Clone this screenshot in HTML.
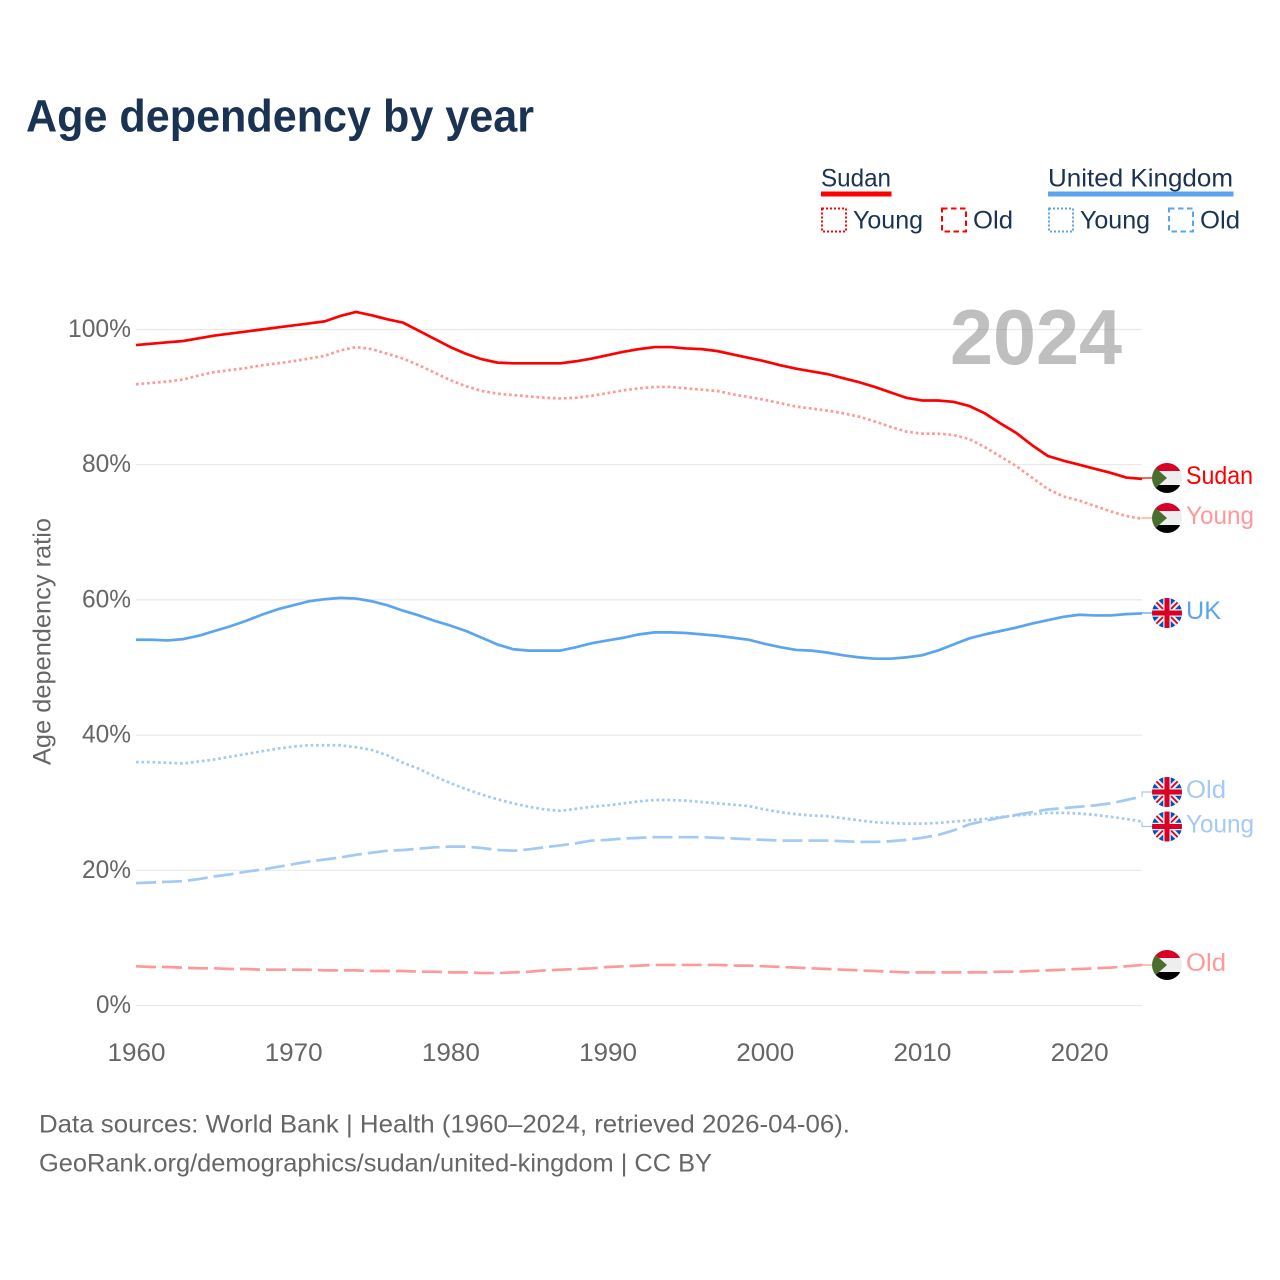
<!DOCTYPE html>
<html lang="en">
<head>
<meta charset="utf-8">
<title>Age dependency by year</title>
<style>
html,body{margin:0;padding:0;background:#fff;width:1280px;height:1280px;overflow:hidden}
svg{display:block}
text{font-family:"Liberation Sans",sans-serif}
</style>
</head>
<body>
<svg id="chart" xmlns="http://www.w3.org/2000/svg" width="1280" height="1280" viewBox="0 0 1280 1280">
  <defs>
    <clipPath id="flag-clip"><circle cx="0" cy="0" r="15"/></clipPath>
    <g id="flag-sudan" clip-path="url(#flag-clip)">
      <rect x="-15" y="-15" width="30" height="8" fill="#d80027"/>
      <rect x="-15" y="-7" width="30" height="14" fill="#eeeeee"/>
      <rect x="-15" y="7" width="30" height="8" fill="#000000"/>
      <path d="M-17,-15 L0,0 L-17,15 Z" fill="#496e2d"/>
    </g>
    <g id="flag-uk" clip-path="url(#flag-clip)">
      <rect x="-15" y="-15" width="30" height="30" fill="#0052b4"/>
      <path d="M-15,-15 L15,15 M15,-15 L-15,15" stroke="#eeeeee" stroke-width="6"/>
      <path d="M-15,-15 L15,15 M15,-15 L-15,15" stroke="#d80027" stroke-width="1.8"/>
      <path d="M0,-15 V15 M-15,0 H15" stroke="#eeeeee" stroke-width="7.5"/>
      <path d="M0,-15 V15 M-15,0 H15" stroke="#d80027" stroke-width="5"/>
    </g>
  </defs>

  <text x="26" y="131.5" font-size="45" font-weight="700" fill="#1a3353" textLength="508" lengthAdjust="spacingAndGlyphs">Age dependency by year</text>

  <g font-size="25" fill="#1a3353">
    <text x="821" y="186.5" textLength="70" lengthAdjust="spacingAndGlyphs">Sudan</text>
    <rect x="821" y="191.5" width="70.5" height="5" fill="#ff0000"/>
    <rect x="822" y="208.5" width="24" height="23" fill="none" stroke="#ff0000" stroke-width="2" stroke-dasharray="2 2"/>
    <text x="853" y="228.5" textLength="70" lengthAdjust="spacingAndGlyphs">Young</text>
    <rect x="942" y="208.5" width="24" height="23" fill="none" stroke="#ff0000" stroke-width="2" stroke-dasharray="5.5 3.5"/>
    <text x="973" y="228.5" textLength="40" lengthAdjust="spacingAndGlyphs">Old</text>
    <text x="1048" y="186.5" textLength="185" lengthAdjust="spacingAndGlyphs">United Kingdom</text>
    <rect x="1048" y="191.5" width="185.5" height="5" fill="#5ba4ee"/>
    <rect x="1049" y="208.5" width="24" height="23" fill="none" stroke="#5ba4ee" stroke-width="2" stroke-dasharray="2 2"/>
    <text x="1080" y="228.5" textLength="70" lengthAdjust="spacingAndGlyphs">Young</text>
    <rect x="1169" y="208.5" width="24" height="23" fill="none" stroke="#5ba4ee" stroke-width="2" stroke-dasharray="5.5 3.5"/>
    <text x="1200" y="228.5" textLength="40" lengthAdjust="spacingAndGlyphs">Old</text>
  </g>

  <g id="grid"></g>
  <text x="950" y="364" font-size="78" font-weight="700" fill="#808080" fill-opacity="0.5" textLength="172" lengthAdjust="spacingAndGlyphs">2024</text>
  <g id="y-ticks" font-size="25" fill="#666666" text-anchor="end"></g>
  <g id="x-ticks" font-size="25" fill="#666666" text-anchor="middle"></g>
  <text transform="translate(50.5,765) rotate(-90)" font-size="25" fill="#666666" textLength="247" lengthAdjust="spacingAndGlyphs">Age dependency ratio</text>
  <g id="series"></g>
  <g id="labels" font-size="25"></g>

  <g font-size="25" fill="#666666">
    <text x="39" y="1132.5" textLength="811" lengthAdjust="spacingAndGlyphs">Data sources: World Bank | Health (1960–2024, retrieved 2026-04-06).</text>
    <text x="39" y="1171.5" textLength="673" lengthAdjust="spacingAndGlyphs">GeoRank.org/demographics/sudan/united-kingdom | CC BY</text>
  </g>
</svg>

<script>
const firstYear = 1960;
const xTickYears = [1960, 1970, 1980, 1990, 2000, 2010, 2020];
const yTickValues = [0, 20, 40, 60, 80, 100];

const sudanTotal = [97.7,97.9,98.1,98.3,98.7,99.1,99.4,99.7,100.0,100.3,100.6,100.9,101.2,102.0,102.6,102.1,101.5,101.0,99.8,98.6,97.4,96.4,95.6,95.1,95.0,95.0,95.0,95.0,95.3,95.7,96.2,96.7,97.1,97.4,97.4,97.2,97.1,96.8,96.3,95.8,95.3,94.7,94.2,93.8,93.4,92.8,92.2,91.5,90.7,89.9,89.5,89.5,89.3,88.7,87.6,86.1,84.7,82.9,81.3,80.6,80.0,79.4,78.8,78.1,77.9];
const sudanYoung = [91.9,92.1,92.3,92.6,93.2,93.7,94.0,94.3,94.7,95.0,95.3,95.7,96.1,96.9,97.4,97.1,96.4,95.7,94.7,93.6,92.5,91.6,90.9,90.5,90.3,90.1,89.9,89.8,89.9,90.2,90.6,91.0,91.3,91.5,91.5,91.3,91.1,90.9,90.4,90.0,89.6,89.1,88.6,88.3,88.0,87.6,87.1,86.4,85.6,84.9,84.6,84.6,84.4,83.8,82.6,81.2,79.8,78.1,76.4,75.3,74.7,73.9,73.1,72.4,72.0];
const sudanOld = [5.8,5.7,5.7,5.6,5.5,5.5,5.4,5.4,5.3,5.3,5.3,5.3,5.2,5.2,5.2,5.1,5.1,5.1,5.0,5.0,4.9,4.9,4.8,4.8,4.9,5.0,5.2,5.3,5.4,5.5,5.7,5.8,5.9,6.0,6.0,6.0,6.0,6.0,5.9,5.9,5.8,5.7,5.6,5.5,5.4,5.3,5.2,5.1,5.0,4.9,4.9,4.9,4.9,4.9,4.9,5.0,5.0,5.1,5.2,5.3,5.4,5.5,5.6,5.8,6.0];
const ukTotal = [54.1,54.1,54.0,54.2,54.7,55.4,56.1,56.9,57.8,58.6,59.2,59.8,60.1,60.3,60.2,59.8,59.2,58.4,57.7,56.9,56.2,55.4,54.4,53.4,52.7,52.5,52.5,52.5,53.0,53.6,54.0,54.4,54.9,55.2,55.2,55.1,54.9,54.7,54.4,54.1,53.5,53.0,52.6,52.5,52.2,51.8,51.5,51.3,51.3,51.5,51.8,52.5,53.4,54.3,54.9,55.4,55.9,56.5,57.0,57.5,57.8,57.7,57.7,57.9,58.0];
const ukYoung = [36.0,36.0,35.9,35.8,36.1,36.4,36.8,37.2,37.6,38.0,38.3,38.5,38.5,38.5,38.2,37.8,37.0,35.9,35.0,33.9,32.9,32.0,31.2,30.5,29.9,29.4,29.0,28.8,29.1,29.4,29.6,29.9,30.2,30.4,30.4,30.3,30.1,29.9,29.7,29.5,29.0,28.6,28.3,28.1,28.0,27.7,27.4,27.1,27.0,26.9,26.9,27.0,27.2,27.4,27.6,27.9,28.1,28.3,28.5,28.5,28.4,28.2,27.9,27.6,27.2];
const ukOld = [18.1,18.2,18.3,18.4,18.7,19.1,19.4,19.8,20.1,20.5,20.9,21.3,21.6,21.9,22.3,22.6,22.9,23.0,23.2,23.4,23.5,23.5,23.3,23.0,22.9,23.1,23.4,23.7,24.0,24.4,24.5,24.7,24.8,24.9,24.9,24.9,24.9,24.8,24.7,24.6,24.5,24.4,24.4,24.4,24.4,24.3,24.2,24.2,24.3,24.5,24.8,25.2,25.9,26.8,27.3,27.8,28.2,28.6,29.0,29.2,29.4,29.6,29.9,30.4,30.9];

const svgNS = 'http://www.w3.org/2000/svg';
function xScale(year) { return 136 + (year - 1960) * (1142 - 136) / 64; }
function yScale(value) { return 1005.5 - value * 6.76; }
function make(tag, parent) {
  const el = document.createElementNS(svgNS, tag);
  parent.appendChild(el);
  return el;
}

const gridGroup = document.getElementById('grid');
const yTickGroup = document.getElementById('y-ticks');
yTickValues.forEach(function (v) {
  const line = make('line', gridGroup);
  
  
  line.setAttribute('x1', 136);
  line.setAttribute('x2', 1142);
  line.setAttribute('y1', yScale(v));
  line.setAttribute('y2', yScale(v));
  line.setAttribute('stroke', '#e8e8e8');
  line.setAttribute('stroke-width', '1.2');
  const label = make('text', yTickGroup);
  
  
  label.setAttribute('x', 131);
  label.setAttribute('y', yScale(v) + 7.5);
  const txt = v + '%';
  label.setAttribute('textLength', txt.length === 4 ? 63 : (txt.length === 3 ? 49 : 35));
  label.setAttribute('lengthAdjust', 'spacingAndGlyphs');
  label.textContent = txt;
});

const xTickGroup = document.getElementById('x-ticks');
xTickYears.forEach(function (yr) {
  const label = make('text', xTickGroup);
  
  
  label.setAttribute('x', xScale(yr) + 0.5);
  label.setAttribute('y', 1061);
  label.setAttribute('textLength', 58);
  label.setAttribute('lengthAdjust', 'spacingAndGlyphs');
  label.textContent = String(yr);
});

function drawSeries(name, values, color, dash, labelText, labelY, flagId, labelWidth) {
  const seriesGroup = document.getElementById('series');
  const labelGroup = document.getElementById('labels');
  const pts = values.map(function (v, i) {
    return xScale(firstYear + i).toFixed(2) + ',' + yScale(v).toFixed(2);
  }).join(' ');
  const line = make('polyline', seriesGroup);
  
  
  line.setAttribute('points', pts);
  line.setAttribute('fill', 'none');
  line.setAttribute('stroke', color);
  line.setAttribute('stroke-width', '2.7');
  line.setAttribute('stroke-linejoin', 'round');
  if (dash) line.setAttribute('stroke-dasharray', dash);

  const endY = yScale(values[values.length - 1]);
  const leader = make('path', labelGroup);
  
  
  leader.setAttribute('d', 'M1142,' + endY.toFixed(2) + ' V' + labelY + ' H1154');
  leader.setAttribute('fill', 'none');
  leader.setAttribute('stroke', color);
  leader.setAttribute('stroke-width', '1.2');

  const flag = make('use', labelGroup);
  
  
  flag.setAttribute('href', '#' + flagId);
  flag.setAttribute('transform', 'translate(1167,' + labelY + ')');

  const label = make('text', labelGroup);
  
  
  label.setAttribute('x', 1186);
  label.setAttribute('y', labelY + 6);
  label.setAttribute('fill', color);
  label.setAttribute('textLength', labelWidth);
  label.setAttribute('lengthAdjust', 'spacingAndGlyphs');
  label.textContent = labelText;
}

drawSeries('sudan-old', sudanOld, '#ff9999', '20 6', 'Old', 965, 'flag-sudan', 40);
drawSeries('uk-old', ukOld, '#a3c9f5', '20 6', 'Old', 792, 'flag-uk', 40);
drawSeries('uk-young', ukYoung, '#a3c9f5', '2.7 2.8', 'Young', 826.5, 'flag-uk', 68);
drawSeries('sudan-young', sudanYoung, '#ff9999', '2.7 2.8', 'Young', 518, 'flag-sudan', 68);
drawSeries('uk-total', ukTotal, '#5ba4ee', null, 'UK', 613, 'flag-uk', 35);
drawSeries('sudan-total', sudanTotal, '#ff0000', null, 'Sudan', 478, 'flag-sudan', 67);
</script>
</body>
</html>
